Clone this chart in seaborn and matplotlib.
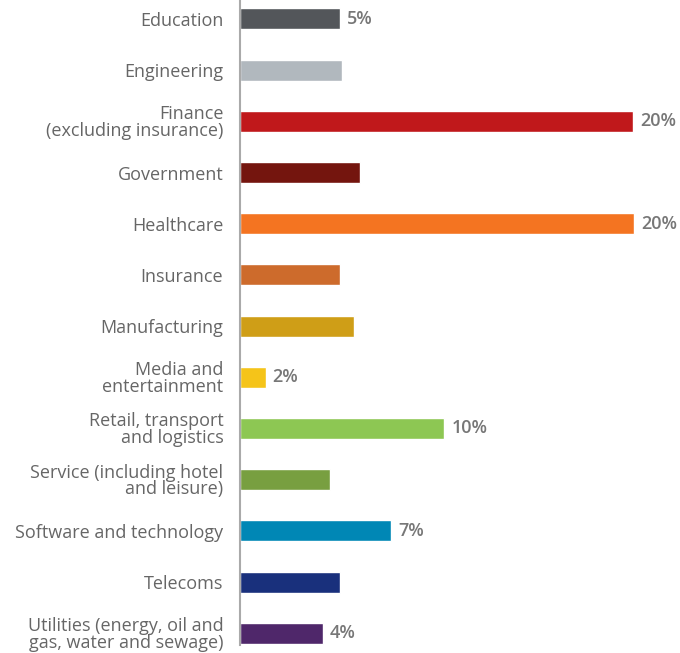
import matplotlib
matplotlib.use("Agg")
import matplotlib.pyplot as plt
import seaborn as sns
import pandas as pd

categories = [
    "Education", "Engineering", "Finance\n(excluding insurance)", "Government",
    "Healthcare", "Insurance", "Manufacturing", "Media and\nentertainment",
    "Retail, transport\nand logistics", "Service (including hotel\nand leisure)",
    "Software and technology", "Telecoms",
    "Utilities (energy, oil and\ngas, water and sewage)",
]
values = [5.1, 5.2, 20.0, 6.1, 20.05, 5.1, 5.8, 1.3, 10.4, 4.6, 7.7, 5.1, 4.2]
value_labels = ["5%", "", "20%", "", "20%", "", "", "2%", "10%", "", "7%", "", "4%"]
colors = ["#53565A", "#B1B8BE", "#C0181B", "#74150E", "#F47421", "#CD6B2C",
          "#CF9E17", "#F5C419", "#8DC753", "#789F40", "#0087B5", "#19307C", "#4F276A"]

sns.set_theme(style="white")
plt.rcParams['font.family'] = ['Open Sans', 'DejaVu Sans']

df = pd.DataFrame({"category": categories, "value": values})

fig = plt.figure(figsize=(6.8, 6.53), dpi=100)
ax = fig.add_axes([240/680, 8/653, (666-240)/680, (653-8)/653])

sns.barplot(data=df, y="category", x="value", hue="category", palette=colors,
            order=categories, hue_order=categories, orient="h", width=0.41,
            legend=False, ax=ax, saturation=1)

ax.set_xlim(0, 426/19.65)
ax.set_ylim(12.23, -0.37)
ax.set_xlabel("")
ax.set_ylabel("")
ax.set_xticks([])
for s in ["top", "right", "bottom"]:
    ax.spines[s].set_visible(False)
ax.spines["left"].set_color("#aaaaaa")
ax.spines["left"].set_linewidth(1.5)
ax.tick_params(axis="y", length=0, pad=12)
for lab in ax.get_yticklabels():
    lab.set_fontsize(13)
    lab.set_color("#666666")
    lab.set_linespacing(0.88)

for i, (v, t) in enumerate(zip(values, value_labels)):
    if t:
        ax.annotate(t, xy=(v, i), xytext=(5, 0), textcoords="offset points",
                    va="center", ha="left", fontsize=13, fontweight="semibold",
                    color="#777777")

fig.savefig("out.png", dpi=100)
